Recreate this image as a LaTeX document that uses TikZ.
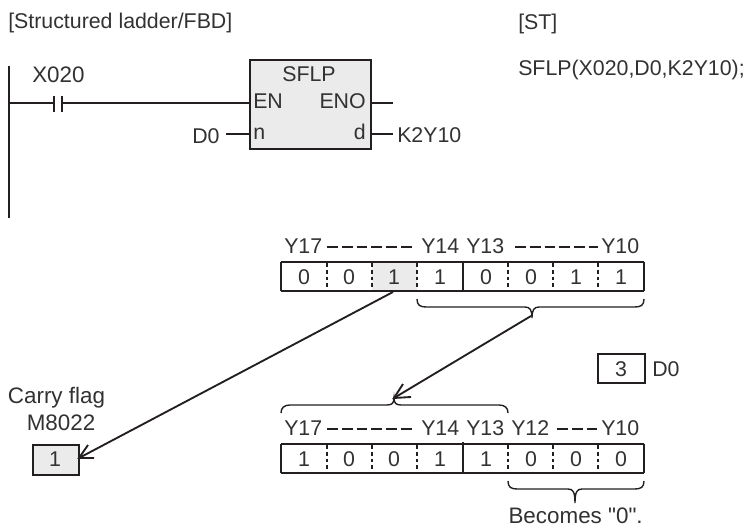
\documentclass[tikz,border=0pt]{standalone}
\usepackage{fontspec}
\setmainfont{Liberation Sans}[Ligatures=TeXOff]
\definecolor{ink}{HTML}{231F20}
\definecolor{txt}{HTML}{333132}
\definecolor{boxgray}{HTML}{EBEBEB}
\tikzset{
  x=0.75pt,y=-0.75pt,
  thick line/.style={draw=ink,line width=1.4pt},
  thin line/.style={draw=ink,line width=1.05pt},
  dot line/.style={draw=ink,line width=1.05pt,dash pattern=on 2.8pt off 2.3pt},
  dash line/.style={draw=ink,line width=0.95pt,dash pattern=on 8.1pt off 3pt},
  lbl/.style={inner sep=0pt,text=txt,font=\fontsize{16}{19}\selectfont},
  big lbl/.style={inner sep=0pt,text=txt,font=\fontsize{16.8}{20}\selectfont},
  cell box/.style={draw=ink,line width=1.4pt,inner sep=0pt,minimum width=34.5pt,minimum height=22pt,anchor=north west},
}
\newcommand{\brc}[5]{% x1 x2 y tipx tipy : opening up, tip down
  \draw[thin line] (#1,#3-8) .. controls (#1,#3-2) and (#1+3,#3) .. (#1+9,#3) -- (#4-7,#3) .. controls (#4-2,#3) and (#4,#3+3) .. (#4,#5)
   .. controls (#4,#3+3) and (#4+2,#3) .. (#4+7,#3) -- (#2-9,#3) .. controls (#2-3,#3) and (#2,#3-2) .. (#2,#3-8);}
\begin{document}
\begin{tikzpicture}
\useasboundingbox (0,0) rectangle (744,528);
\node[lbl,anchor=base west] (t1) at (8,29) {[Structured ladder/FBD]};
\node[lbl,anchor=base west] (t2) at (518,30) {[ST]};
\node[lbl,anchor=base west] (t3) at (518,76) {SFLP(X020,D0,K2Y10);};
% ladder
\coordinate (r1) at (9,66); \coordinate (r2) at (9,218); \coordinate (r3) at (9,103);
\draw[thick line] (r1) -- (r2);
\node[big lbl,anchor=base west] (x20) at (32,83) {X020};
\coordinate (c1) at (54,103); \coordinate (c2) at (62,103);
\node[draw=ink,line width=1.4pt,fill=boxgray,inner sep=0pt,minimum width=90.75pt,minimum height=66.75pt,anchor=north west] (blk) at (249,59) {};
\coordinate (en0) at (249,103); \coordinate (eno0) at (370,103); \coordinate (eno1) at (393,103);
\coordinate (n0) at (249,134); \coordinate (n1) at (226,134);
\coordinate (d0a) at (370,134); \coordinate (d0b) at (393,134);
\draw[thick line] (r3) -- (c1) (c2) -- (en0);
\draw[thick line] (54,96) -- (54,112) (62,96) -- (62,112);
\node[lbl,anchor=base] (sflp) at (309,82) {SFLP};
\node[lbl,anchor=base west] (en) at (253,109) {EN};
\node[lbl,anchor=base east] (eno) at (366,109) {ENO};
\node[lbl,anchor=base west] (nn) at (253,140) {n};
\node[lbl,anchor=base east] (dd) at (366,140) {d};
\draw[thick line] (eno0) -- (eno1);
\node[lbl,anchor=base west] (d0) at (192,144) {D0};
\draw[thick line] (n1) -- (n0);
\draw[thick line] (d0a) -- (d0b);
\node[lbl,anchor=base west] (k) at (397,143) {K2Y10};
% upper register
\fill[boxgray] (372,262) rectangle (417,291);
\draw[thick line] (281,262) -- (644,262) (281,291) -- (644,291);
\draw[thick line] (281,262) -- (281,291) (463,262) -- (463,291) (644,262) -- (644,291);
\foreach \x in {327,372,417,508,553,598} \draw[dot line] (\x,263) -- (\x,291);
\foreach \x/\v in {304/0,349/0,394/1,440/1,486/0,531/0,576/1,621/1} \node[lbl,anchor=base] at (\x,285) {\v};
\node[lbl,anchor=base west] (u17) at (284,253) {Y17};
\node[lbl,anchor=base west] (u14) at (421,253) {Y14};
\node[lbl,anchor=base west] (u13) at (466,253) {Y13};
\node[lbl,anchor=base west] (u10) at (601,253) {Y10};
\draw[dash line] (327,247) -- (414,247);
\draw[dash line] (515,247) -- (598,247);
\brc{417}{644}{307}{532}{318}
% lower register
\draw[thick line] (281,444) -- (644,444) (281,473) -- (644,473);
\draw[thick line] (281,444) -- (281,473) (463,442) -- (463,473) (644,444) -- (644,473);
\foreach \x in {327,372,417,508,553,598} \draw[dot line] (\x,445) -- (\x,473);
\foreach \x/\v in {304/1,349/0,394/0,440/1,486/1,531/0,576/0,621/0} \node[lbl,anchor=base] at (\x,466) {\v};
\node[lbl,anchor=base west] (l17) at (284,435) {Y17};
\node[lbl,anchor=base west] (l14) at (421,435) {Y14};
\node[lbl,anchor=base west] (l13) at (466,435) {Y13};
\node[lbl,anchor=base west] (l12) at (511,435) {Y12};
\node[lbl,anchor=base west] (l10) at (601,435) {Y10};
\draw[dash line] (327,429) -- (414,429);
\draw[dash line] (557,429) -- (597,429);
\brc{508}{644}{489}{575}{503}
\node[big lbl,anchor=base east] (bec) at (643,523) {Becomes "0".};
\draw[thin line] (281,413) .. controls (281,408) and (284,405) .. (290,405) -- (387,405) .. controls (392,405) and (394,403) .. (394,398) .. controls (394,403) and (396,405) .. (401,405) -- (499,405) .. controls (505,405) and (508,408) .. (508,413);
% carry
\node[big lbl,anchor=base] (cf) at (56.5,403) {Carry flag};
\node[big lbl,anchor=base] (m) at (61,431) {M8022};
\node[draw=ink,line width=1.4pt,fill=boxgray,inner sep=0pt,minimum width=34.5pt,minimum height=22.5pt,anchor=north west] (cbox) at (32,444) {};
\node[lbl,anchor=base] (cv) at (55,466) {1};
% arrows
\coordinate (a1) at (393,292); \coordinate (a2) at (79,458);
\coordinate (a3) at (88,445); \coordinate (a4) at (94,458);
\coordinate (b1) at (531,316); \coordinate (b2) at (394,398);
\coordinate (b3) at (403,384); \coordinate (b4) at (411,397);
\draw[thick line] (a1) -- (a2);
\draw[thick line] (a3) -- (a2) -- (a4);
\draw[thick line] (b1) -- (b2);
\draw[thick line] (b3) -- (b2) -- (b4);
% D0 box
\node[cell box,minimum width=35pt,minimum height=22pt] (dbox) at (597,353) {};
\node[lbl,anchor=base] (dv) at (621,376) {3};
\node[lbl,anchor=base west] (dl) at (652,376) {D0};
\end{tikzpicture}
\end{document}
